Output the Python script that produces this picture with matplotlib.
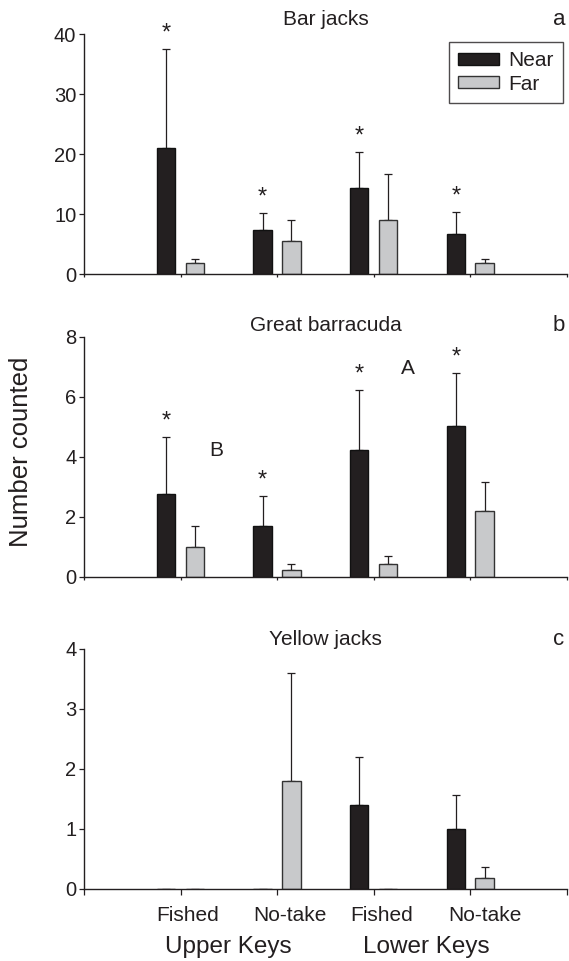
import numpy as np
import matplotlib
matplotlib.use('Agg')
import matplotlib.pyplot as plt

plt.rcParams['font.family'] = ['Liberation Sans', 'DejaVu Sans']

# Data (means and top of error bars)
groups = ['Fished', 'No-take', 'Fished', 'No-take']
regions = ['Upper Keys', 'Lower Keys']

bar_near = [21.0, 7.4, 14.3, 6.7]
bar_near_top = [37.5, 10.2, 20.4, 10.3]
bar_far = [1.8, 5.5, 8.95, 1.8]
bar_far_top = [2.45, 9.05, 16.7, 2.55]

cuda_near = [2.76, 1.68, 4.22, 5.01]
cuda_near_top = [4.65, 2.69, 6.22, 6.8]
cuda_far = [1.0, 0.22, 0.43, 2.19]
cuda_far_top = [1.7, 0.43, 0.68, 3.16]

yel_near = [0, 0, 1.4, 1.0]
yel_near_top = [np.nan, np.nan, 2.2, 1.57]
yel_far = [0, 1.8, 0, 0.19]
yel_far_top = [np.nan, 3.6, np.nan, 0.36]

stars = {'a': [True, True, True, True],
         'b': [True, True, True, True],
         'c': [False, False, False, False]}

ink = '#231f20'
near_col = '#231f20'
far_col = '#c8c9cb'

fig = plt.figure(figsize=(5.69, 9.61), dpi=100)
W, H = 569, 961
left = 84 / W
width = 483 / W
panels = [
    ('a', 'Bar jacks', bar_near, bar_near_top, bar_far, bar_far_top, 34, 274, 40, 10, 1.06),
    ('b', 'Great barracuda', cuda_near, cuda_near_top, cuda_far, cuda_far_top, 336.7, 576.7, 8, 2, 1.046),
    ('c', 'Yellow jacks', yel_near, yel_near_top, yel_far, yel_far_top, 649, 889, 4, 1, 1.04),
]

x = np.arange(1, 5)
bw = 0.19
off_near = -0.151
off_far = 0.147
axes = []
for letter, title, near, near_top, far, far_top, top, bot, ymax, ystep, ty in panels:
    ax = fig.add_axes([left, 1 - bot / H, width, (bot - top) / H])
    axes.append(ax)
    near = np.array(near, float)
    far = np.array(far, float)
    near_err = np.array(near_top, float) - near
    far_err = np.array(far_top, float) - far

    ax.bar(x + off_near, near, bw, color=near_col, edgecolor='#111111', linewidth=1, zorder=2, label='Near')
    ax.bar(x + off_far, far, bw, color=far_col, edgecolor='#333333', linewidth=1, zorder=2, label='Far')
    ax.errorbar(x + off_near, near, yerr=[np.zeros(4), near_err], fmt='none', ecolor=ink,
                elinewidth=0.9, capsize=3.1, capthick=0.9, zorder=1)
    ax.errorbar(x + off_far, far, yerr=[np.zeros(4), far_err], fmt='none', ecolor=ink,
                elinewidth=0.9, capsize=3.1, capthick=0.9, zorder=1)

    for i, s in enumerate(stars[letter]):
        if s:
            ax.annotate('*', (x[i] + off_near, near_top[i]), xytext=(0, 11), textcoords='offset points',
                        ha='center', va='center', fontsize=17, color=ink)

    ax.set_xlim(0, 5)
    ax.set_ylim(0, ymax)
    ax.set_yticks(np.arange(0, ymax + ystep / 2, ystep))
    ax.set_xticks(np.arange(0, 6))
    ax.set_xticklabels([])
    for sp in ['top', 'right']:
        ax.spines[sp].set_visible(False)
    for sp in ['left', 'bottom']:
        ax.spines[sp].set_linewidth(1.0)
        ax.spines[sp].set_color(ink)
    ax.tick_params(axis='y', direction='out', length=3.5, width=0.9, colors=ink,
                   labelsize=14.5, pad=2)
    ax.tick_params(axis='x', direction='out', length=2 if letter != 'c' else 4.5,
                   width=0.9, colors=ink)
    ax.text(0.5, ty, title, transform=ax.transAxes, ha='center', va='center',
            fontsize=15, color=ink)
    ax.text(0.983, ty, letter, transform=ax.transAxes, ha='center', va='center',
            fontsize=16, color=ink)

# legend on panel a
leg = axes[0].legend(loc='upper right', bbox_to_anchor=(0.9917, 0.9667), fontsize=15,
                     frameon=True, fancybox=False, handlelength=1.95, handleheight=0.52,
                     handletextpad=0.45, borderpad=0.45, labelspacing=0.2, borderaxespad=0)
leg.get_frame().set_edgecolor(ink)
leg.get_frame().set_linewidth(1.0)
for t in leg.get_texts():
    t.set_color(ink)

# letters A / B on panel b
axes[1].text(1.37, 4.2, 'B', ha='center', va='center', fontsize=15, color=ink)
axes[1].text(3.35, 6.95, 'A', ha='center', va='center', fontsize=15, color=ink)

# category labels on panel c
label_pos = [1.07, 2.13, 3.08, 4.15]
axc = axes[2]
axc.set_xticks(label_pos, minor=True)
axc.set_xticklabels(groups, minor=True, fontsize=15, color=ink)
axc.tick_params(axis='x', which='minor', length=0, pad=12)
region_pos = [1.49, 3.54]
for xp, r in zip(region_pos, regions):
    axc.annotate(r, (xp, 0), xytext=(0, -41.5), textcoords='offset points',
                 ha='center', va='center', fontsize=17.5, color=ink,
                 xycoords=('data', 'axes fraction'))

fig.text(21.5 / W, 1 - 452 / H, 'Number counted', rotation=90, ha='center', va='center',
         fontsize=18.5, color=ink)

fig.savefig('out.png', dpi=100)
